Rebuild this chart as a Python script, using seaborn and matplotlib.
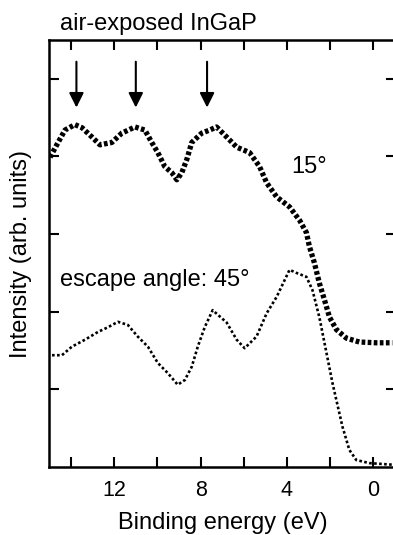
import matplotlib
matplotlib.use("Agg")
import matplotlib.pyplot as plt
import seaborn as sns
import pandas as pd

# ---- data ----
energy_15 = [14.97, 14.60, 14.28, 13.82, 13.49, 13.03, 12.66, 12.11, 11.65, 11.04,
             10.58, 10.26, 9.98, 9.66, 9.33, 9.10, 8.87, 8.64, 8.41, 7.95,
             7.58, 7.26, 6.79, 6.33, 5.73, 5.27, 4.94, 4.48, 3.88, 3.42,
             3.10, 2.96, 2.73, 2.50, 2.26, 2.03, 1.71, 1.25, 0.65, -0.14, -0.88]
intensity_15 = [3.99, 4.18, 4.34, 4.41, 4.37, 4.25, 4.15, 4.18, 4.30, 4.38,
                4.34, 4.18, 4.05, 3.87, 3.79, 3.70, 3.79, 3.96, 4.18, 4.30,
                4.34, 4.38, 4.25, 4.12, 4.05, 3.87, 3.66, 3.48, 3.35, 3.18,
                3.02, 2.84, 2.63, 2.37, 2.15, 1.93, 1.77, 1.66, 1.61, 1.60, 1.60]

energy_45 = [14.88, 14.42, 13.96, 13.35, 12.75, 12.29, 11.83, 11.37, 10.91, 10.44,
             9.98, 9.52, 9.06, 8.73, 8.41, 8.13, 7.81, 7.44, 6.79, 6.33,
             5.96, 5.41, 4.94, 4.48, 3.88, 3.56, 3.10, 2.82, 2.50, 2.17,
             1.89, 1.71, 1.43, 1.11, 0.79, 0.18, -0.88]
intensity_45 = [1.44, 1.44, 1.55, 1.64, 1.74, 1.80, 1.87, 1.83, 1.68, 1.55,
                1.34, 1.21, 1.06, 1.12, 1.29, 1.55, 1.80, 2.02, 1.86, 1.64,
                1.53, 1.68, 1.98, 2.19, 2.54, 2.50, 2.45, 2.28, 1.93, 1.47,
                1.08, 0.86, 0.52, 0.22, 0.09, 0.05, 0.03]

xticks = [14, 12, 10, 8, 6, 4, 2, 0]
xtick_labels = ["", "12", "", "8", "", "4", "", "0"]
yticks = [1, 2, 3, 4, 5]
arrow_energies = [13.75, 11.0, 7.7]

title_text = "air-exposed InGaP"
label_15 = "15\u00b0"
label_45 = "escape angle: 45\u00b0"
x_label = "Binding energy (eV)"
y_label = "Intensity (arb. units)"

# ---- style ----
sns.set_theme(style="ticks")
plt.rcParams["font.family"] = ["Liberation Sans", "DejaVu Sans"]
plt.rcParams["axes.linewidth"] = 1.8
plt.rcParams["text.color"] = "black"
plt.rcParams["axes.labelcolor"] = "black"

fig = plt.figure(figsize=(3.93, 5.35), dpi=100)
ax = fig.add_axes([49 / 393, (535 - 467) / 535, 347 / 393, (467 - 40) / 535])

df15 = pd.DataFrame({"energy": energy_15, "intensity": intensity_15})
df45 = pd.DataFrame({"energy": energy_45, "intensity": intensity_45})

sns.lineplot(data=df15, x="energy", y="intensity", sort=False, ax=ax,
             color="black", lw=3.8, linestyle=(0, (0.7, 0.45)))
sns.lineplot(data=df45, x="energy", y="intensity", sort=False, ax=ax,
             color="black", lw=1.9, linestyle=(0, (1, 0.9)))

for e in arrow_energies:
    ax.annotate("", xy=(e, 4.63), xytext=(e, 5.22),
                arrowprops=dict(arrowstyle="-|>", color="black", lw=1.5,
                                mutation_scale=22, shrinkA=0, shrinkB=0))

ax.set_xlim(15.02, -1.05)
ax.set_ylim(0, 5.5)
ax.set_xticks(xticks)
ax.set_xticklabels(xtick_labels)
ax.set_yticks(yticks)
ax.set_yticklabels([])
ax.tick_params(axis="both", direction="in", length=7.5, width=1.5,
               top=True, right=True, labelsize=15.5, pad=9,
               colors="black", labelcolor="black")

ax.text(3.79, 3.87, label_15, fontsize=17, ha="left", va="center", color="black")
ax.text(14.51, 2.41, label_45, fontsize=17, ha="left", va="center", color="black")

ax.set_xlabel(x_label, fontsize=17, labelpad=8, color="black")
ax.set_ylabel(y_label, fontsize=17, color="black")
ax.yaxis.set_label_coords(-0.048, 0.50)

fig.text(60 / 393, 1 - 30 / 535, title_text, fontsize=17, ha="left",
         va="baseline", color="black")

for s in ax.spines.values():
    s.set_color("black")
ax.spines["right"].set_visible(False)

fig.savefig("out.png", dpi=100)
